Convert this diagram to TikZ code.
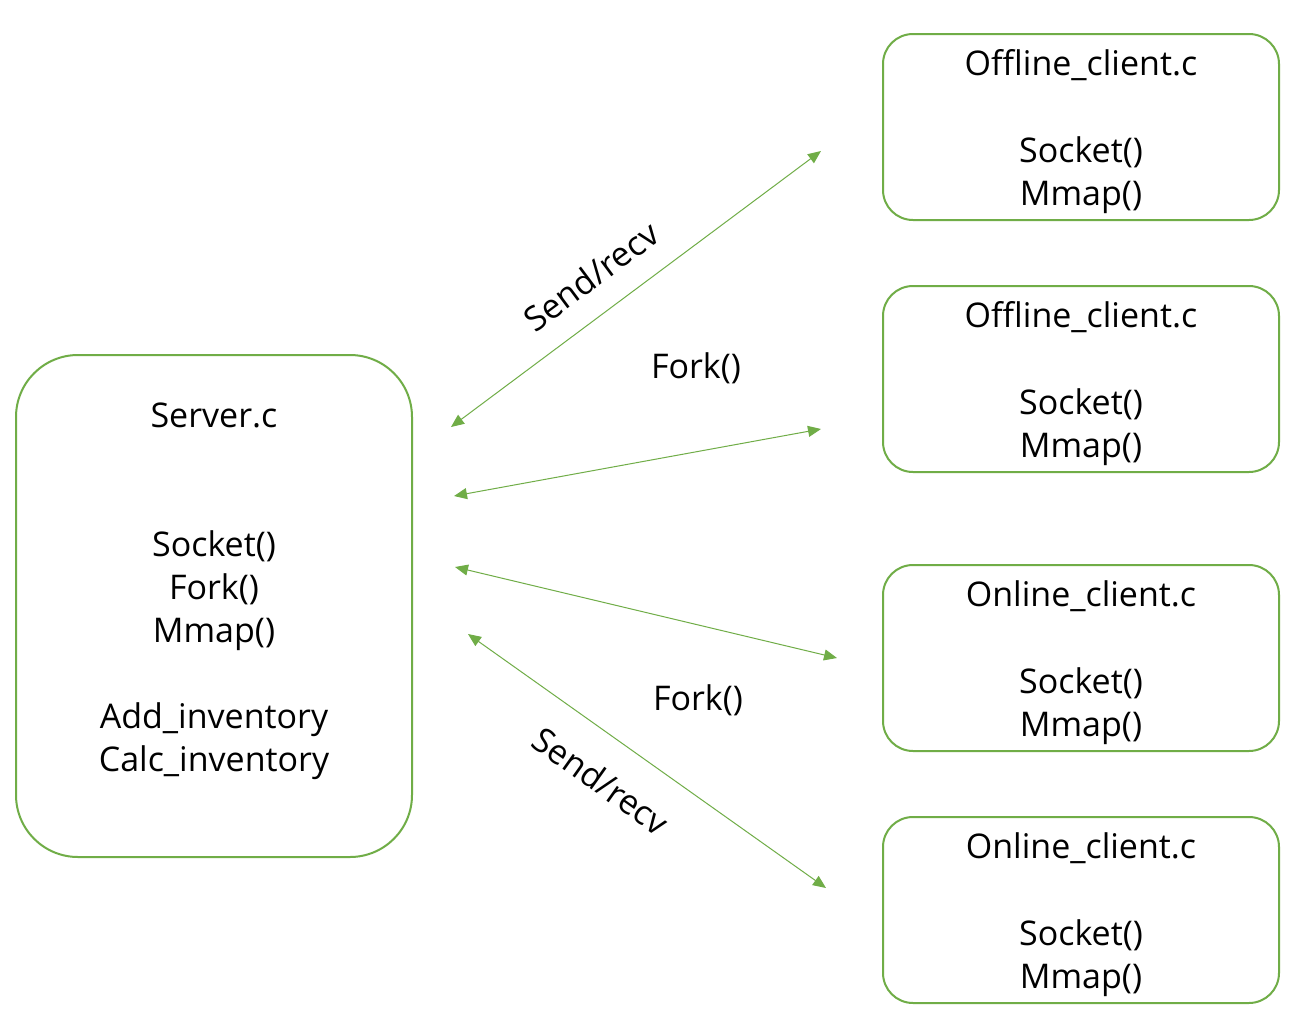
\documentclass[tikz,border=0pt]{standalone}
\usepackage{fontspec}
\setmainfont{Open Sans}
\usetikzlibrary{arrows.meta}
\definecolor{grn}{RGB}{112,173,71}
\tikzset{
  box/.style={draw=grn, line width=2pt, rounded corners=30pt},
  bigbox/.style={draw=grn, line width=2pt, rounded corners=62pt},
  txt/.style={font=\fontsize{34}{43}\selectfont, text=black, align=center, inner sep=0pt},
  link/.style={draw=grn, line width=1pt, {Triangle[length=13pt,width=11pt]}-{Triangle[length=13pt,width=11pt]}},
}
\begin{document}
\begin{tikzpicture}[x=1pt,y=-1pt]
\useasboundingbox[fill=white] (0,0) rectangle (1302,1028);
% server
\draw[bigbox] (16,355) rectangle (412,857);
\node[txt] (srvtitle) at (214,415) {Server.c};
\node[txt] (srvbody) at (214,655) {Socket()\\Fork()\\Mmap()\\[43pt]Add\_inventory\\Calc\_inventory};
% clients
\foreach \y/\name/\lab in {34/c1/Offline\_client.c, 286/c2/Offline\_client.c, 565/c3/Online\_client.c, 817/c4/Online\_client.c}{
  \draw[box] (883,\y) rectangle (1279,\y+186);
  \node[txt] (\name t) at (1081,\y+31) {\lab};
  \node[txt] (\name b) at (1081,\y+141) {Socket()\\Mmap()};
}
% endpoints
\coordinate (a1s) at (451,427); \coordinate (a1e) at (821,151);
\coordinate (a2s) at (454,496); \coordinate (a2e) at (821,429);
\coordinate (a3s) at (455,567); \coordinate (a3e) at (837,658);
\coordinate (a4s) at (468,634); \coordinate (a4e) at (826,888);
\draw[link] (a1s) -- (a1e);
\draw[link] (a2s) -- (a2e);
\draw[link] (a3s) -- (a3e);
\draw[link] (a4s) -- (a4e);
\node[txt, rotate=36.7] (sr1) at (591,276) {Send/recv};
\node[txt] (fk1) at (696,368) {Fork()};
\node[txt] (fk2) at (698,700) {Fork()};
\node[txt, rotate=-35.4] (sr2) at (601,781) {Send/recv};
\end{tikzpicture}
\end{document}
